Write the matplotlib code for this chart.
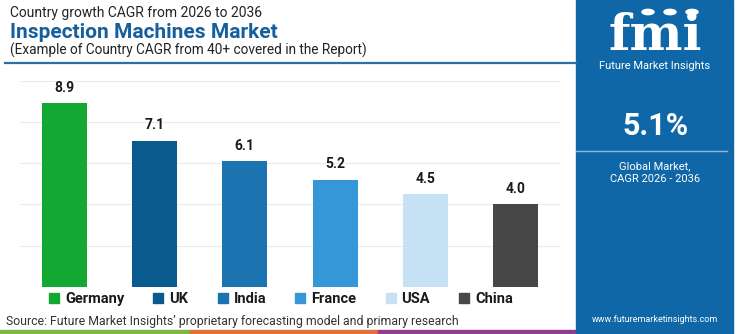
import matplotlib.pyplot as plt
from matplotlib.patches import Rectangle, Circle
from matplotlib.lines import Line2D

countries = ["Germany", "UK", "India", "France", "USA", "China"]
cagr = [8.9, 7.1, 6.1, 5.2, 4.5, 4.0]
colors = ["#12a832", "#0b5a8e", "#1b74b0", "#3597d7", "#c6e1f3", "#474747"]
global_cagr = "5.1%"

plt.rcParams['font.family'] = ['Roboto', 'DejaVu Sans']

fig = plt.figure(figsize=(7.5, 3.34), dpi=100)
fig.patch.set_facecolor("white")

# chart area
ax = fig.add_axes([20 / 750, 1 - 287 / 334, 540 / 750, (287 - 80.7) / 334])
x = list(range(len(countries)))
ax.bar(x, cagr, width=0.5, color=colors, zorder=3)
for xi, v in zip(x, cagr):
    ax.text(xi, v + 0.4, f"{v:.1f}", ha="center", va="bottom",
            fontsize=10, fontweight="bold", color="#1a1a1a")
ax.set_xlim(-0.49, 5.49)
ax.set_ylim(0, 10)
ax.set_yticks([0, 2, 4, 6, 8, 10])
ax.grid(axis="y", color="#ebebeb", linewidth=0.8, zorder=0)
ax.set_xticks([])
ax.tick_params(left=False, labelleft=False)
for s in ax.spines.values():
    s.set_visible(False)

# legend
handles = [Line2D([0], [0], marker="s", color="none", markerfacecolor=c,
                  markeredgecolor=c, markersize=7) for c in colors]
leg = fig.legend(handles, countries, ncol=6, loc="center left",
                 bbox_to_anchor=(35 / 750, 1 - 299 / 334), frameon=False,
                 handlelength=0.8, handletextpad=0.35, columnspacing=1.95,
                 prop={"weight": "bold", "size": 10.5})
for t in leg.get_texts():
    t.set_color("#1a1a1a")

# titles
fig.text(10 / 750, 1 - 13 / 334, "Country growth CAGR from 2026 to 2036",
         fontsize=10, color="#222222", va="center")
fig.text(10 / 750, 1 - 33 / 334, "Inspection Machines Market",
         fontsize=15, fontweight="bold", color="#15609c", va="center")
fig.text(10 / 750, 1 - 50 / 334, "(Example of Country CAGR from 40+ covered in the Report)",
         fontsize=9.8, color="#222222", va="center")
fig.add_artist(Line2D([5 / 750, 576 / 750], [1 - 63 / 334, 1 - 63 / 334],
                      color="#2a6fa8", linewidth=1.6))

fig.text(6 / 750, 1 - 321 / 334,
         "Source: Future Market Insights\u2019 proprietary forecasting model and primary research",
         fontsize=8.8, color="#333333", va="center")

# bottom stripe
for x0, x1, c in [(0, 190, "#7ab648"), (190, 378, "#e0703a"), (378, 576, "#8e3d93")]:
    fig.add_artist(Rectangle((x0 / 750, 0), (x1 - x0) / 750, 4 / 334,
                             color=c, transform=fig.transFigure))

# right panel
fig.add_artist(Rectangle((576 / 750, 0), 157 / 750, 1, color="#0f67a8",
                         transform=fig.transFigure))
cx = 655 / 750
fig.text(cx, 1 - 36 / 334, "fmi", fontsize=36, fontweight="bold",
         family="DejaVu Serif", color="white", ha="center", va="center")
for px in [648, 670, 692]:
    fig.add_artist(Circle((px / 750, 1 - 12 / 334), 6 / 750, color="white",
                          transform=fig.transFigure))
fig.text(cx, 1 - 66 / 334, "Future Market Insights", fontsize=8,
         color="white", ha="center", va="center")
fig.text(cx, 1 - 126 / 334, global_cagr, fontsize=22, fontweight="bold",
         color="white", ha="center", va="center")
fig.add_artist(Line2D([576 / 750, 727 / 750], [1 - 151 / 334, 1 - 151 / 334],
                      color="#8fb8dc", linewidth=1))
fig.text(cx, 1 - 166 / 334, "Global Market,", fontsize=8,
         color="white", ha="center", va="center")
fig.text(cx, 1 - 179 / 334, "CAGR 2026 - 2036", fontsize=8,
         color="white", ha="center", va="center")
fig.text(cx, 1 - 319 / 334, "www.futuremarketinsights.com", fontsize=6.5,
         color="white", ha="center", va="center")

fig.savefig("out.png", dpi=100)
